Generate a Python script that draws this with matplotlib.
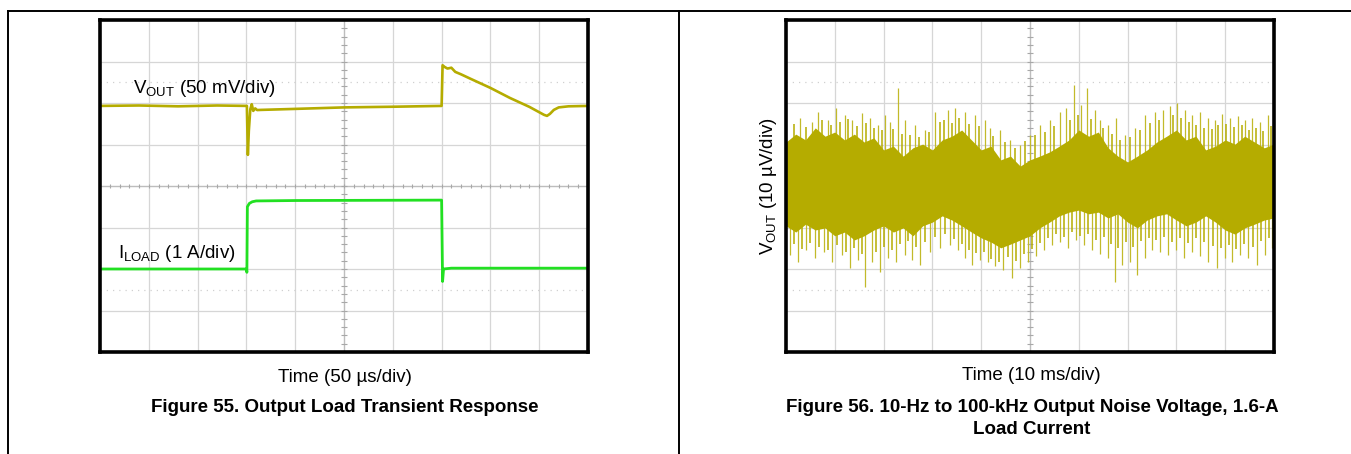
import numpy as np
import matplotlib
matplotlib.use("Agg")
import matplotlib.pyplot as plt
from matplotlib.lines import Line2D

plt.rcParams['font.family'] = ['Liberation Sans', 'DejaVu Sans']
plt.rcParams['mathtext.fontset'] = 'custom'
plt.rcParams['mathtext.rm'] = 'Liberation Sans'

# ---- Figure 55 data: load transient (time in us) ----
vout_t = [0, 40, 80, 120, 150.5, 151.5, 152.5, 154, 155.5, 157, 159, 161, 165, 200, 250, 300,
          350, 351, 353, 356, 360, 364, 370, 380, 400, 420, 440, 455, 458, 461, 465, 470, 480, 500]
vout_mv = [0, 0.5, -0.5, 0.5, 0, -59, -30, -4, 2, -6, -3, -5, -4.8, -3.6, -1.8, -1,
           0, 49, 47, 45, 46, 41, 38, 32.5, 21.7, 9.6, -1.2, -10.8, -12, -9.6, -4.8, -1.8, -0.5, 0]

iload_t = [0, 150, 150.5, 151, 153, 156, 160, 200, 350, 351, 352, 360, 500]
iload_a = [0, 0, -0.08, 1.5, 1.58, 1.62, 1.64, 1.65, 1.66, -0.3, 0.0, 0.02, 0.02]

# ---- Figure 56 data: output noise (time in ms, voltage in uV) ----
body_t = list(range(0, 101, 2))
body_hi = [10.6, 12.5, 11.1, 14.0, 12.0, 13.0, 11.1, 12.5, 10.6, 11.6, 8.7, 9.6, 7.2, 9.2, 10.1,
           8.7, 11.1, 12.0, 13.5, 11.1, 8.7, 9.6, 6.3, 7.2, 4.8, 6.3, 7.2, 8.2, 9.6, 11.1, 13.5,
           12.0, 13.0, 9.2, 7.2, 5.8, 7.2, 8.7, 10.6, 12.0, 13.5, 11.1, 12.0, 8.7, 9.6, 11.1,
           10.1, 12.0, 10.6, 9.2, 10.1]
body_lo = [-9.6, -11.1, -9.2, -10.6, -10.1, -12.0, -11.1, -13.0, -12.0, -10.6, -9.6, -11.1,
           -10.1, -12.0, -9.6, -8.7, -7.2, -8.2, -9.6, -11.1, -12.5, -13.5, -14.9, -14.0, -13.0,
           -12.0, -10.1, -8.7, -7.2, -6.3, -5.8, -6.7, -6.3, -7.7, -6.7, -8.7, -10.1, -8.2, -7.2,
           -6.7, -8.2, -9.6, -8.7, -7.2, -8.7, -10.6, -11.6, -10.1, -9.2, -8.2, -7.7]

# tall spikes
spike_up_t = [2.9, 5.3, 6.6, 8.6, 10.2, 12.1, 13.5, 15.6, 17.2, 18.9, 20.3, 21.3, 23.0, 24.4,
              26.4, 28.5, 30.5, 33.2, 34.6, 36.7, 38.7, 40.8, 41.8, 43.9, 45.9, 48.0, 50.0,
              52.0, 54.1, 56.1, 57.4, 59.0, 60.5, 61.7, 63.3, 64.3, 66.0, 67.6, 69.5, 71.5,
              73.6, 75.6, 77.3, 78.7, 80.1, 81.8, 83.2, 84.8, 86.5, 87.9, 89.3, 91.0, 92.6,
              94.1, 95.5, 97.1, 98.8]
spike_up_v = [16.4, 15.4, 17.8, 15.9, 18.8, 17.1, 15.9, 17.6, 16.4, 14.7, 17.1, 15.4, 23.6, 15.9,
              14.7, 13.5, 17.8, 18.3, 18.8, 17.8, 17.1, 15.9, 14.0, 13.5, 11.1, 9.9, 12.3,
              14.7, 15.9, 17.8, 18.8, 24.3, 19.5, 23.6, 18.3, 15.9, 14.7, 16.4, 12.3, 14.0,
              17.1, 17.8, 18.3, 19.3, 20.0, 18.3, 17.1, 17.8, 16.4, 15.9, 17.4, 16.4, 16.9,
              15.9, 16.4, 15.4, 17.1]
spike_dn_t = [0.8, 2.5, 4.1, 5.9, 7.8, 9.4, 11.5, 13.1, 14.8, 16.2, 17.6, 19.3, 20.9, 22.5,
              24.4, 25.8, 27.5, 29.5, 31.6, 33.6, 35.2, 36.7, 38.1, 39.8, 41.4, 42.8, 44.5,
              46.3, 48.0, 49.6, 51.2, 52.9, 54.5, 56.1, 57.8, 59.4, 61.1, 62.7, 64.3, 66.0,
              67.4, 68.9, 70.5, 71.9, 73.6, 75.0, 76.6, 78.3, 79.9, 81.6, 83.2, 84.8, 86.5,
              88.3, 90.0, 91.4, 93.0, 94.7, 96.5, 98.2, 99.6]
spike_dn_v = [-16.6, -18.3, -15.4, -17.4, -15.9, -18.3, -16.6, -19.8, -17.8, -24.3, -18.3,
              -20.7, -17.4, -18.3, -16.6, -17.8, -19.0, -15.9, -14.9, -14.2, -15.4, -17.4,
              -19.0, -17.8, -18.3, -19.3, -20.2, -22.2, -19.8, -18.3, -16.9, -15.4, -14.2,
              -13.5, -14.9, -13.0, -14.2, -15.4, -16.4, -17.4, -23.1, -19.0, -18.3, -21.4,
              -17.4, -15.4, -15.9, -16.6, -15.4, -17.4, -15.9, -16.9, -18.3, -19.8, -17.4,
              -18.3, -16.6, -17.4, -19.0, -16.6, -14.9]

# shorter spikes between the tall ones
mid_up_t = [1.6, 4.0, 7.4, 9.3, 11.0, 12.8, 14.5, 16.4, 18.0, 19.6, 22.0, 23.7, 25.5, 27.3,
            29.4, 31.5, 32.3, 34.0, 35.5, 37.5, 39.6, 42.5, 44.8, 47.0, 49.0, 51.0, 53.0,
            55.0, 58.2, 59.8, 62.4, 65.0, 66.8, 68.5, 70.4, 72.5, 74.5, 76.4, 79.4, 81.0,
            82.5, 84.0, 85.7, 87.2, 88.6, 90.2, 91.8, 93.4, 94.8, 96.3, 97.8, 99.4]
mid_up_v = [15.0, 14.2, 16.0, 14.8, 15.5, 16.2, 14.5, 15.2, 14.0, 13.5, 13.8, 12.6, 12.2, 11.8,
            13.0, 15.5, 16.0, 15.2, 16.4, 15.0, 14.4, 12.0, 10.5, 9.2, 10.8, 12.4, 13.0,
            14.5, 16.0, 17.0, 16.2, 14.0, 12.5, 11.0, 11.8, 13.6, 15.2, 16.0, 17.2, 16.5,
            15.5, 14.8, 14.0, 13.8, 14.6, 15.0, 14.2, 14.8, 13.6, 14.0, 13.2, 14.5]
mid_dn_t = [1.6, 3.3, 5.0, 6.8, 8.6, 10.4, 12.3, 14.0, 15.5, 18.4, 20.0, 21.7, 23.4, 25.1,
            26.6, 28.4, 30.5, 32.6, 34.4, 36.0, 37.4, 39.0, 40.6, 42.1, 43.6, 45.4, 47.2,
            48.8, 50.4, 52.1, 53.7, 55.3, 57.0, 58.6, 60.2, 61.9, 63.5, 65.2, 66.7, 68.1,
            69.7, 71.2, 72.8, 74.3, 75.8, 77.4, 79.1, 80.8, 82.4, 84.0, 85.6, 87.4, 89.1,
            90.7, 92.2, 93.8, 95.6, 97.3, 98.9]
mid_dn_v = [-14.0, -15.2, -13.8, -14.6, -15.5, -14.2, -16.0, -15.0, -16.5, -15.8, -14.6, -15.4,
            -14.0, -13.2, -14.8, -13.5, -12.2, -11.5, -12.8, -14.0, -15.5, -16.2, -15.8,
            -17.5, -18.4, -17.0, -18.0, -16.5, -15.2, -13.8, -12.6, -11.5, -12.2, -11.0,
            -12.0, -11.6, -13.0, -12.4, -14.0, -15.0, -13.5, -14.8, -13.2, -12.5, -13.0,
            -12.2, -13.4, -12.6, -13.8, -12.5, -13.6, -14.4, -15.0, -14.2, -15.2, -14.0,
            -14.6, -13.2, -12.5]

OLIVE = '#b5ac00'
SPIKE = '#c2ba2a'
GREEN = '#22e022'
W, H = 1351, 454
FS = 13.5


def scope_axes(px_left, px_top, px_w, px_h):
    ax = plt.gcf().add_axes([px_left / W, 1 - (px_top + px_h) / H, px_w / W, px_h / H])
    ax.set_xlim(0, 10)
    ax.set_ylim(0, 8)
    ax.set_xticks(range(11))
    ax.set_yticks(range(9))
    ax.tick_params(length=0, labelbottom=False, labelleft=False)
    ax.grid(True, color='#d6d6d6', lw=0.9)
    for y in (1.5, 6.5):
        ax.axhline(y, color='#d0d0d0', lw=0.9, ls=(0, (1, 4)))
    ax.axhline(4, color='#bdbdbd', lw=0.9)
    ax.axvline(5, color='#bdbdbd', lw=0.9)
    minor = np.arange(0, 10.01, 0.2)
    ax.vlines(minor, 4 - 0.06, 4 + 0.06, color='#a8a8a8', lw=0.8)
    minor_y = np.arange(0, 8.01, 0.2)
    ax.hlines(minor_y, 5 - 0.06, 5 + 0.06, color='#a8a8a8', lw=0.8)
    for s in ax.spines.values():
        s.set_linewidth(2.6)
        s.set_color('black')
        s.set_zorder(10)
    return ax


fig = plt.figure(figsize=(W / 100, H / 100), dpi=100)

# page table lines
fig.add_artist(Line2D([8 / W, 1], [1 - 11 / H, 1 - 11 / H], color='black', lw=1.4))
fig.add_artist(Line2D([8 / W, 8 / W], [0, 1 - 11 / H], color='black', lw=1.4))
fig.add_artist(Line2D([679 / W, 679 / W], [0, 1 - 11 / H], color='black', lw=1.4))

# ---- left: transient ----
ax1 = scope_axes(100, 20, 488, 332)
ax1.plot(np.array(vout_t) / 50.0, 5.93 + np.array(vout_mv) / 50.0, color=OLIVE, lw=1.9, zorder=5)
ax1.plot(np.array(iload_t) / 50.0, 2.0 + np.array(iload_a), color=GREEN, lw=2.0, zorder=5)
ax1.text(0.68, 6.24, r'V$_{\mathrm{OUT}}$ (50 mV/div)', fontsize=FS, va='baseline')
ax1.text(0.37, 2.27, r'I$_{\mathrm{LOAD}}$ (1 A/div)', fontsize=FS, va='baseline')

fig.text(345 / W, 1 - 378 / H, 'Time (50 µs/div)', ha='center', va='center', fontsize=FS)
fig.text(345 / W, 1 - 408 / H, 'Figure 55. Output Load Transient Response',
         ha='center', va='center', fontsize=FS, fontweight='bold')

# ---- right: noise ----
ax2 = scope_axes(786, 20, 488, 332)
to_x = lambda t: np.array(t) / 10.0
to_y = lambda v: 4 + np.array(v) / 10.0
ax2.vlines(to_x(spike_up_t), 4, to_y(spike_up_v), color=SPIKE, lw=0.9, zorder=4)
ax2.vlines(to_x(spike_dn_t), to_y(spike_dn_v), 4, color=SPIKE, lw=0.9, zorder=4)
ax2.vlines(to_x(mid_up_t), 4, to_y(mid_up_v), color=OLIVE, lw=1.1, zorder=4)
ax2.vlines(to_x(mid_dn_t), to_y(mid_dn_v), 4, color=OLIVE, lw=1.1, zorder=4)
ax2.fill_between(to_x(body_t), to_y(body_lo), to_y(body_hi), color=OLIVE, lw=0, zorder=5)
ax2.set_ylabel(r'V$_{\mathrm{OUT}}$ (10 µV/div)', fontsize=FS, labelpad=5)

fig.text(1031 / W, 1 - 376 / H, 'Time (10 ms/div)', ha='center', va='center', fontsize=FS)
fig.text(1032 / W, 1 - 408 / H, 'Figure 56. 10-Hz to 100-kHz Output Noise Voltage, 1.6-A',
         ha='center', va='center', fontsize=FS, fontweight='bold')
fig.text(1032 / W, 1 - 430 / H, 'Load Current',
         ha='center', va='center', fontsize=FS, fontweight='bold')

fig.savefig('out.png', dpi=100)
